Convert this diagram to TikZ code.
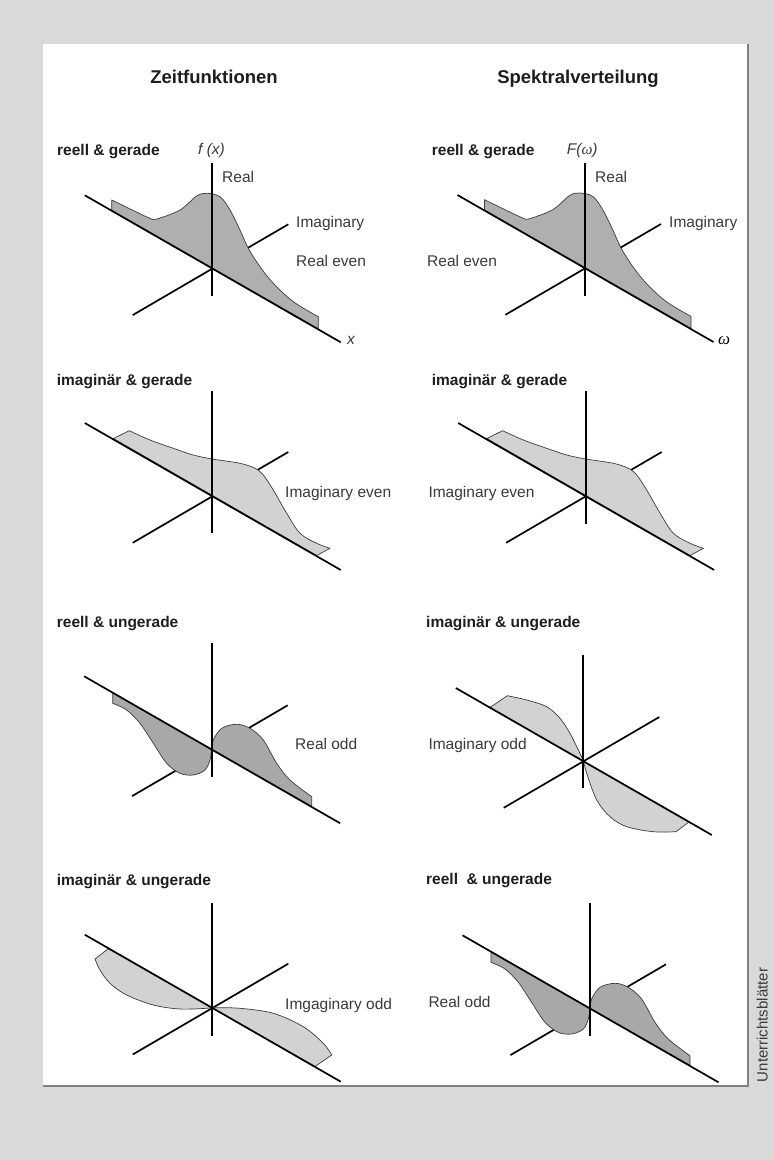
\documentclass[tikz,border=0pt]{standalone}
\usepackage{fontspec}
\setmainfont{Liberation Sans}
\newfontfamily\grserif{Liberation Serif}
\definecolor{bggray}{HTML}{D9D9D9}
\definecolor{shadowgray}{HTML}{808080}
\definecolor{realgray}{HTML}{AFAFB2}
\definecolor{oddgray}{HTML}{A8A8A8}
\definecolor{imaggray}{HTML}{D2D2D2}
\definecolor{curveline}{HTML}{3C3C3C}
\definecolor{labcol}{HTML}{3A3A3A}
\definecolor{titlecol}{HTML}{1E1E1E}
\newcommand\RealEvenCurve{(-100.6,-58) -- (-100.6,-68.3) -- plot[smooth,tension=0.55] coordinates {(-100.6,-68.3) (-81,-58.8) (-62.3,-50) (-55.6,-49.3) (-32.3,-58.3) (-15.6,-72.3) (-5.6,-75) (7.7,-71.6) (17.7,-58.3) (27.7,-38.3) (36,-20) (47.7,-1.6) (61,15) (81,33.4) (106,48.4)} -- (106,60.5) -- cycle}
\newcommand\ImagEvenCurve{(-99,-57.5) -- (-83,-65.3) -- plot[smooth,tension=0.55] coordinates {(-83,-65.3) (-62.3,-56) (-39,-47.7) (-19,-41) (0,-37) (27.7,-32.7) (42.7,-27.7) (51,-21) (61,-6) (74.4,17.3) (87.7,37.3) (104.4,47.3) (117.7,52.3)} -- (104.4,59.5) -- cycle}
\newcommand\RealOddCurve{(-99,-56.5) -- (-99,-46) -- plot[smooth,tension=0.55] coordinates {(-99,-46) (-85,-39.3) (-71.7,-26) (-58.4,-6) (-45,14) (-31.7,24) (-18.4,25.7) (-6.7,20.7) (-1.7,10.7) (0,0) (1.6,-9.3) (10,-21) (25,-25) (38.3,-21) (51.6,-9.3) (65,14) (78.3,30.7) (100,47.4)} -- (100,57) -- cycle}
\newcommand\ImagOddCurveA{(-93.3,-53.5) -- (-76,-65.3) -- plot[smooth,tension=0.55] coordinates {(-76,-65.3) (-56.6,-61) (-36.6,-54.3) (-23.3,-42.7) (-13.3,-27.7) (-5,-11) (0,0) (3.4,12.3) (13.4,39) (26.7,55.7) (43.4,65.7) (70,70.7) (92.7,70.7)} -- (106,60.7) -- cycle}
\newcommand\ImagOddCurveB{(-104,-59) -- (-117.3,-48.7) -- plot[smooth,tension=0.55] coordinates {(-117.3,-48.7) (-112.3,-37.7) (-102.3,-24.4) (-85.6,-12.7) (-59,-2.7) (-32.3,1.3) (-5.6,0.6) (0,0) (27.7,0.6) (61,5.6) (91,19) (111,35.6) (119.4,47.3)} -- (102.7,58.8) -- cycle}
\tikzset{
  axisline/.style={line width=1.7pt, black},
  realfill/.style={fill=realgray, draw=curveline, line width=0.7pt, line join=round},
  oddfill/.style={fill=oddgray, draw=curveline, line width=0.7pt, line join=round},
  imagfill/.style={fill=imaggray, draw=curveline, line width=0.7pt, line join=round},
  title/.style={font=\bfseries\fontsize{15.5}{18}\selectfont, text=titlecol, anchor=mid west, inner sep=0pt},
  lab/.style={font=\fontsize{15.5}{18}\selectfont, text=labcol, anchor=mid west, inner sep=0pt},
  itlab/.style={font=\itshape\fontsize{15.5}{18}\selectfont, text=labcol, anchor=mid west, inner sep=0pt},
  head/.style={font=\bfseries\fontsize{18.5}{22}\selectfont, text=titlecol, anchor=mid, inner sep=0pt},
}
\newcommand\ImagAxis{\draw[axisline] (-79.6,46.8) -- (76,-44);}
\newcommand\MainAxis{\draw[axisline] (-127.5,-73) -- (128.5,74);}
\newcommand\omegasym{{\grserif\itshape ω}}
\begin{document}
\begin{tikzpicture}[x=1pt,y=-1pt]
\useasboundingbox (0,0) rectangle (774,1160);
\fill[bggray] (0,0) rectangle (774,1160);
\fill[white] (43,44) rectangle (747,1085);
\draw[shadowgray, line width=2.4pt] (748.2,44) -- (748.2,1086.2) -- (43,1086.2);
% headers
\node[head] (h1) at (214,81) {Zeitfunktionen};
\node[head] (h2) at (578,81) {Spektralverteilung};
% Row 1 left
\begin{scope}[shift={(212.3,268.3)}]
  \ImagAxis
  \fill[realfill] \RealEvenCurve;
  \MainAxis
  \draw[axisline] (0,-105.5) -- (0,28);
\end{scope}
\node[title] (t1) at (57,153) {reell \& gerade};
\node[itlab] (fx) at (198,152) {f (x)};
\node[lab] (real1) at (222,180) {Real};
\node[lab] (imag1) at (296,225) {Imaginary};
\node[lab] (reeven1) at (296,264) {Real even};
\node[itlab] (xlab) at (347,342) {x};
% Row 1 right
\begin{scope}[shift={(585,268)}]
  \ImagAxis
  \fill[realfill] \RealEvenCurve;
  \MainAxis
  \draw[axisline] (0,-105.5) -- (0,28);
\end{scope}
\node[title] (t2) at (431.7,153) {reell \& gerade};
\node[itlab] (Fw) at (566.7,152) {F(\omegasym)};
\node[lab] (real2) at (595,180) {Real};
\node[lab] (imag2) at (669,225) {Imaginary};
\node[lab] (reeven2) at (427,264) {Real even};
\node[lab, text=black, font=\fontsize{17}{18}\selectfont] (wlab) at (718,342) {\omegasym};
% Row 2 left
\begin{scope}[shift={(212.3,496)}]
  \ImagAxis
  \fill[imagfill] \ImagEvenCurve;
  \MainAxis
  \draw[axisline] (0,-105.3) -- (0,37);
\end{scope}
\node[title] (t3) at (56.7,383.3) {imaginär \& gerade};
\node[lab] (imeven1) at (285,495) {Imaginary even};
% Row 2 right
\begin{scope}[shift={(585.7,496)}]
  \ImagAxis
  \fill[imagfill] \ImagEvenCurve;
  \MainAxis
  \draw[axisline] (0,-105.3) -- (0,28);
\end{scope}
\node[title] (t4) at (431.7,383.3) {imaginär \& gerade};
\node[lab] (imeven2) at (428.3,495) {Imaginary even};
% Row 3 left
\begin{scope}[shift={(211.7,749.3)}]
  \ImagAxis
  \fill[oddfill] \RealOddCurve;
  \MainAxis
  \draw[axisline] (0,-106) -- (0,27.4);
\end{scope}
\node[title] (t5) at (56.7,625) {reell \& ungerade};
\node[lab] (reodd1) at (295,746.7) {Real odd};
% Row 3 right
\begin{scope}[shift={(583.3,761)}]
  \ImagAxis
  \fill[imagfill] \ImagOddCurveA;
  \MainAxis
  \draw[axisline] (0,-106) -- (0,27.3);
\end{scope}
\node[title] (t6) at (426,625) {imaginär \& ungerade};
\node[lab] (imodd1) at (428.3,746.7) {Imaginary odd};
% Row 4 left
\begin{scope}[shift={(212.3,1007.7)}]
  \ImagAxis
  \fill[imagfill] \ImagOddCurveB;
  \MainAxis
  \draw[axisline] (0,-105) -- (0,28.3);
\end{scope}
\node[title] (t7) at (56.7,883.3) {imaginär \& ungerade};
\node[lab] (imodd2) at (285,1006.7) {Imgaginary odd};
% Row 4 right
\begin{scope}[shift={(590,1008.3)}]
  \ImagAxis
  \fill[oddfill] \RealOddCurve;
  \MainAxis
  \draw[axisline] (0,-105.6) -- (0,27.7);
\end{scope}
\node[title] (t8) at (426,881.7) {reell\ \ \& ungerade};
\node[lab] (reodd2) at (428.3,1005) {Real odd};
% side text
\node[lab, anchor=mid, rotate=90, font=\fontsize{15}{18}\selectfont] (side) at (765,1025) {Unterrichtsblätter};
\end{tikzpicture}
\end{document}
